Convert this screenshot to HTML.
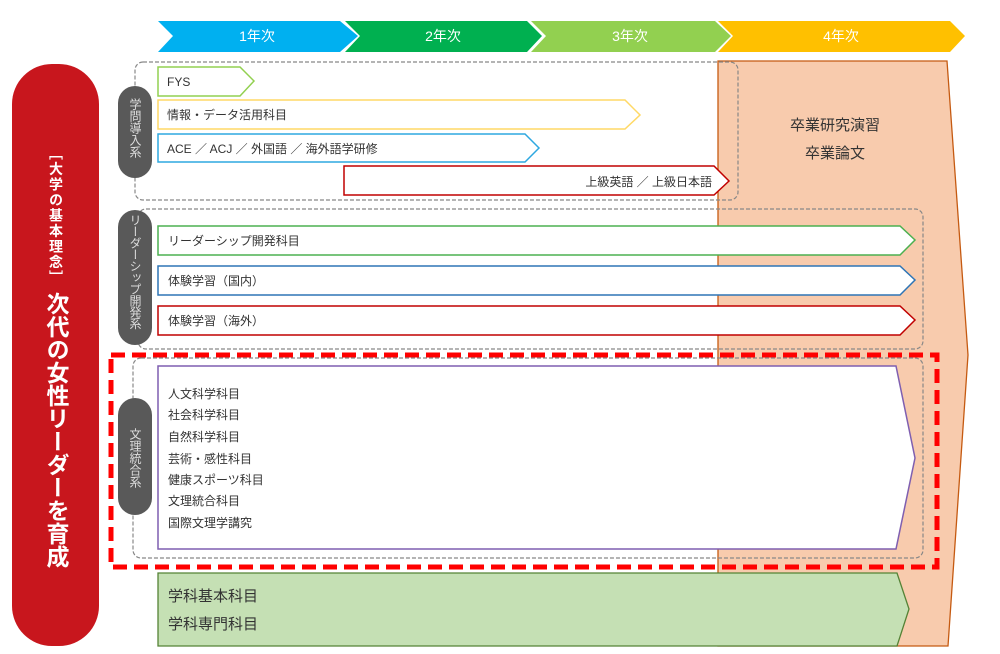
<!DOCTYPE html>
<html><head><meta charset="utf-8"><style>
body{margin:0;width:1000px;height:654px;background:#fff;position:relative;overflow:hidden;font-family:"Liberation Sans","Noto Sans CJK JP",sans-serif;}
.v{position:absolute;writing-mode:vertical-rl;white-space:nowrap;}
svg text{font-family:"Liberation Sans","Noto Sans CJK JP",sans-serif;}
</style></head><body>
<svg width="1000" height="654" style="position:absolute;left:0;top:0">
<polygon points="158,21 340,21 358,36 340,52 158,52 173,36" fill="#00b0f0"/>
<polygon points="345,21 527,21 542,36 527,52 345,52 360,36" fill="#00b050"/>
<polygon points="531,21 715,21 731,36 715,52 531,52 546,36" fill="#92d050"/>
<polygon points="718,21 950,21 965,36 950,52 718,52 733,36" fill="#ffc000"/>
<g fill="#fff" font-size="14" text-anchor="middle">
<text x="257" y="41">1年次</text><text x="443" y="41">2年次</text><text x="630" y="41">3年次</text><text x="841" y="41">4年次</text>
</g>
<polygon points="718,61 947,61 968,355 948,646 718,646" fill="#f8cbad" stroke="#c55a11" stroke-width="1.3"/>
<g fill="#333" font-size="15" text-anchor="middle">
<text x="835" y="130">卒業研究演習</text><text x="835" y="158">卒業論文</text>
</g>
<rect x="12" y="64" width="87" height="582" rx="40" fill="#c8161d"/>
<rect x="135" y="62" width="603" height="138" rx="8" fill="none" stroke="#888" stroke-dasharray="4,2" stroke-width="1.2"/>
<polygon points="158,67 240,67 254,81 240,96 158,96" fill="#fff" stroke="#92d050" stroke-width="1.5"/>
<polygon points="158,100 625,100 640,115 625,129 158,129" fill="#fff" stroke="#ffd966" stroke-width="1.5"/>
<polygon points="158,134 525,134 539,148 525,162 158,162" fill="#fff" stroke="#2ea8e0" stroke-width="1.5"/>
<polygon points="344,166 714,166 729,181 714,195 344,195" fill="#fff" stroke="#c00000" stroke-width="1.5"/>
<g fill="#333" font-size="12">
<text x="167" y="86">FYS</text>
<text x="167" y="119">情報・データ活用科目</text>
<text x="167" y="153">ACE ／ ACJ ／ 外国語 ／ 海外語学研修</text>
<text x="712" y="186" text-anchor="end">上級英語 ／ 上級日本語</text>
</g>
<rect x="138" y="209" width="785" height="140" rx="8" fill="none" stroke="#888" stroke-dasharray="4,2" stroke-width="1.2"/>
<polygon points="158,226 900,226 915,240 900,255 158,255" fill="#fff" stroke="#4cb050" stroke-width="1.5"/>
<polygon points="158,266 900,266 915,280 900,295 158,295" fill="#fff" stroke="#2e75b6" stroke-width="1.5"/>
<polygon points="158,306 900,306 915,320 900,335 158,335" fill="#fff" stroke="#c00000" stroke-width="1.5"/>
<g fill="#333" font-size="12">
<text x="168" y="245">リーダーシップ開発科目</text>
<text x="168" y="285">体験学習（国内）</text>
<text x="168" y="325">体験学習（海外）</text>
</g>
<rect x="111" y="355" width="826" height="212" fill="none" stroke="#ff0000" stroke-width="5" stroke-dasharray="14,7"/>
<rect x="133" y="358" width="790" height="200" rx="8" fill="none" stroke="#888" stroke-dasharray="4,2" stroke-width="1.2"/>
<polygon points="158,366 896,366 915,458 896,549 158,549" fill="#fff" stroke="#7f5fb0" stroke-width="1.5"/>
<g fill="#333" font-size="12">
<text x="168" y="398">人文科学科目</text>
<text x="168" y="419">社会科学科目</text>
<text x="168" y="441">自然科学科目</text>
<text x="168" y="463">芸術・感性科目</text>
<text x="168" y="484">健康スポーツ科目</text>
<text x="168" y="505">文理統合科目</text>
<text x="168" y="527">国際文理学講究</text>
</g>
<polygon points="158,573 897,573 909,609 897,646 158,646" fill="#c5e0b4" stroke="#548235" stroke-width="1.3"/>
<g fill="#333" font-size="15">
<text x="168" y="601">学科基本科目</text><text x="168" y="629">学科専門科目</text>
</g>
<rect x="118" y="86" width="34" height="92" rx="17" fill="#595959"/>
<rect x="118" y="210" width="34" height="135" rx="17" fill="#595959"/>
<rect x="118" y="398" width="34" height="117" rx="17" fill="#595959"/>
</svg>
<div class="v" style="left:126px;top:98px;color:#ddd;font-size:12px;line-height:18px">学問導入系</div>
<div class="v" style="left:126px;top:214px;color:#ddd;font-size:12px;line-height:18px;letter-spacing:-0.5px">リーダーシップ開発系</div>
<div class="v" style="left:126px;top:428px;color:#ddd;font-size:12px;line-height:18px">文理統合系</div>
<div class="v" style="left:46px;top:146px;color:#fff;font-size:14px;font-weight:bold;line-height:20px;letter-spacing:1.5px">［大学の基本理念］</div>
<div class="v" style="left:42px;top:292px;color:#fff;font-size:23px;font-weight:bold;line-height:28px;letter-spacing:0px">次代の女性リーダーを育成</div>
</body></html>
